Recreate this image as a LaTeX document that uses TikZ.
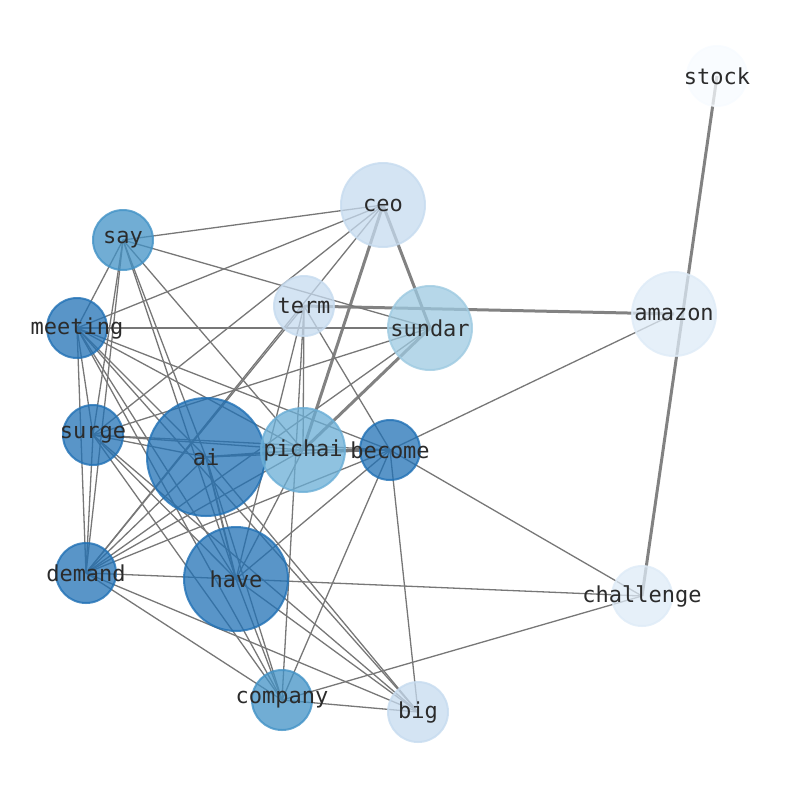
\documentclass[tikz,border=0pt]{standalone}
\usepackage{fontspec}
\setmonofont{DejaVu Sans Mono}
\usetikzlibrary{backgrounds}

\definecolor{bluePale}{HTML}{F7FBFF}
\definecolor{blueLight}{HTML}{DEEBF7}
\definecolor{blueSoft}{HTML}{C6DBEF}
\definecolor{blueMid}{HTML}{9ECAE1}
\definecolor{blueSky}{HTML}{6AAED6}
\definecolor{blueDeep}{HTML}{4292C6}
\definecolor{blueDark}{HTML}{2171B5}
\definecolor{edgeGray}{HTML}{777777}
\definecolor{heavyGray}{HTML}{828282}
\definecolor{wordGray}{HTML}{2B2B2B}

\tikzset{
  word/.style={circle, inner sep=0pt, minimum size=2*#1, fill opacity=0.75, draw opacity=0.8, line width=2pt,
    label={[text=wordGray, font=\ttfamily\fontsize{22}{24}\selectfont]center:\wordtext}},
  link/.style={draw=edgeGray, line width=1.3pt},
  heavy/.style={draw=heavyGray, line width=3pt}
}
\newcommand{\wordtext}{}
\newcommand{\wordnode}[5]{\renewcommand{\wordtext}{#4}\node[word=#5, fill=#1, draw=#1] (#2) at #3 {};}

\begin{document}
\begin{tikzpicture}[x=1pt,y=1pt,yscale=-1,xscale=1]
\useasboundingbox (0,0) rectangle (794,790);

% Word Nodes
\wordnode{bluePale}{stock}{(717,76)}{stock}{30}
\wordnode{blueSoft}{ceo}{(383,205)}{ceo}{42}
\wordnode{blueDeep}{say}{(123,240)}{say}{30}
\wordnode{blueSoft}{term}{(304,306)}{term}{30}
\wordnode{blueMid}{sundar}{(430,328)}{sundar}{42}
\wordnode{blueLight}{amazon}{(674,314)}{amazon}{42}
\wordnode{blueDark}{meeting}{(77,328)}{meeting}{30}
\wordnode{blueDark}{surge}{(93,435)}{surge}{30}
\wordnode{blueDark}{ai}{(206,457)}{ai}{59}
\wordnode{blueSky}{pichai}{(303,450)}{pichai}{42}
\wordnode{blueDark}{become}{(390,450)}{become}{30}
\wordnode{blueDark}{demand}{(86,573)}{demand}{30}
\wordnode{blueDark}{have}{(236,579)}{have}{52}
\wordnode{blueLight}{challenge}{(642,596)}{challenge}{30}
\wordnode{blueDeep}{company}{(282,700)}{company}{30}
\wordnode{blueSoft}{big}{(418,712)}{big}{30}

\begin{scope}[on background layer]
%Heavy Lines
\draw[heavy] (stock.center) -- (challenge.center);
\draw[heavy] (term.center) -- (amazon.center);
\draw[heavy] (ceo.center) -- (sundar.center);
\draw[heavy] (ceo.center) -- (pichai.center);
\draw[heavy] (sundar.center) -- (pichai.center);

%Straight Lines
\draw[link] (ceo.center) -- (say.center);
\draw[link] (ceo.center) -- (meeting.center);
\draw[link] (ceo.center) -- (surge.center);
\draw[link] (ceo.center) -- (demand.center);

\draw[link] (say.center) -- (sundar.center);
\draw[link] (say.center) -- (pichai.center);
\draw[link] (say.center) -- (meeting.center);
\draw[link] (say.center) -- (surge.center);
\draw[link] (say.center) -- (demand.center);
\draw[link] (say.center) -- (ai.center);
\draw[link] (say.center) -- (have.center);

\draw[link] (term.center) -- (become.center);
\draw[link] (term.center) -- (pichai.center);
\draw[link] (term.center) -- (demand.center);
\draw[link] (term.center) -- (have.center);
\draw[link] (term.center) -- (company.center);

\draw[link] (sundar.center) -- (meeting.center);
\draw[link] (sundar.center) -- (surge.center);
\draw[link] (sundar.center) -- (demand.center);

\draw[link] (meeting.center) -- (surge.center);
\draw[link] (meeting.center) -- (demand.center);
\draw[link] (meeting.center) -- (ai.center);
\draw[link] (meeting.center) -- (pichai.center);
\draw[link] (meeting.center) -- (become.center);
\draw[link] (meeting.center) -- (have.center);
\draw[link] (meeting.center) -- (company.center);
\draw[link] (meeting.center) -- (big.center);

\draw[link] (surge.center) -- (ai.center);
\draw[link] (surge.center) -- (pichai.center);
\draw[link] (surge.center) -- (become.center);
\draw[link] (surge.center) -- (demand.center);
\draw[link] (surge.center) -- (have.center);
\draw[link] (surge.center) -- (company.center);
\draw[link] (surge.center) -- (big.center);

\draw[link] (demand.center) -- (ai.center);
\draw[link] (demand.center) -- (pichai.center);
\draw[link] (demand.center) -- (become.center);
\draw[link] (demand.center) -- (have.center);
\draw[link] (demand.center) -- (company.center);
\draw[link] (demand.center) -- (big.center);

\draw[link, line width=1.9pt] (ai.center) -- (pichai.center);
\draw[link, line width=1.9pt] (ai.center) -- (have.center);
\draw[link] (ai.center) -- (become.center);
\draw[link] (ai.center) -- (company.center);
\draw[link] (ai.center) -- (big.center);

\draw[link] (pichai.center) -- (become.center);
\draw[link] (pichai.center) -- (have.center);

\draw[link] (become.center) -- (amazon.center);
\draw[link] (become.center) -- (challenge.center);
\draw[link] (become.center) -- (big.center);
\draw[link] (become.center) -- (company.center);
\draw[link] (become.center) -- (have.center);

\draw[link] (have.center) -- (challenge.center);
\draw[link] (have.center) -- (big.center);
\draw[link] (have.center) -- (company.center);

\draw[link] (company.center) -- (big.center);
\draw[link] (company.center) -- (challenge.center);
\end{scope}

\end{tikzpicture}
\end{document}
